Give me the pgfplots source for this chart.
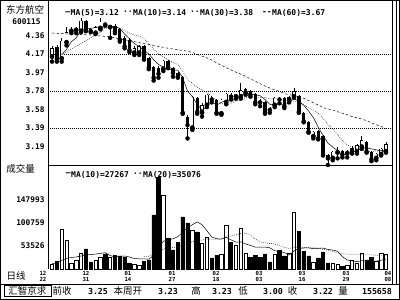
\documentclass[border=0pt]{standalone}
\usepackage{fontspec}
\setmainfont{DejaVu Sans}
\newfontfamily\mono{DejaVu Sans Mono}
\newfontfamily\cjk{Noto Sans CJK SC}
\usepackage{pgfplots}
\usepackage{pgfplotstable}
\pgfplotsset{compat=1.18}

\pgfplotstableread{
i O H L C V
0 4.14 4.25 4.09 4.23 16500
2 4.12 4.34 4.09 4.31 88400
3 4.29 4.45 4.26 4.40 65800
4 4.41 4.45 4.39 4.43 18600
5 4.42 4.45 4.39 4.44 24800
6 4.41 4.55 4.40 4.52 39100
9 4.39 4.47 4.38 4.45 24800
10 4.44 4.55 4.43 4.51 30900
12 4.45 4.48 4.34 4.46 30900
17 4.18 4.25 4.16 4.23 16500
18 4.18 4.26 4.16 4.25 14500
23 4.01 4.11 3.99 4.10 158300
29 3.39 3.73 3.37 3.72 86400
31 3.55 3.65 3.51 3.63 59700
32 3.63 3.75 3.61 3.74 72000
35 3.54 3.70 3.53 3.69 37100
36 3.66 3.76 3.64 3.75 96700
38 3.72 3.74 3.70 3.73 55600
39 3.72 3.86 3.70 3.79 90500
40 3.76 3.81 3.74 3.80 39100
46 3.63 3.72 3.61 3.71 37100
49 3.69 3.73 3.66 3.72 39100
50 3.72 3.81 3.71 3.78 123300
54 3.30 3.36 3.28 3.35 20700
58 3.07 3.15 3.05 3.14 18600
59 3.13 3.19 3.07 3.14 16500
61 3.12 3.16 3.08 3.13 14500
62 3.14 3.20 3.12 3.18 24800
63 3.14 3.22 3.12 3.21 18600
64 3.19 3.31 3.17 3.26 39100
67 3.07 3.13 3.05 3.12 22700
68 3.11 3.18 3.10 3.17 39100
69 3.14 3.24 3.13 3.22 37100
}\up

\pgfplotstableread{
i O H L C V
1 4.24 4.26 4.09 4.12 22700
7 4.52 4.53 4.41 4.42 47400
8 4.43 4.44 4.40 4.41 20700
11 4.50 4.51 4.47 4.48 37100
13 4.47 4.49 4.39 4.41 35000
14 4.43 4.44 4.30 4.32 33000
15 4.34 4.36 4.23 4.25 30900
16 4.32 4.34 4.19 4.21 18600
19 4.25 4.26 4.11 4.13 22700
20 4.13 4.14 4.01 4.03 24800
21 4.03 4.04 3.89 3.92 117200
22 4.02 4.04 3.92 3.96 195200
24 4.10 4.11 4.02 4.03 69900
25 4.02 4.03 3.93 3.97 45300
26 3.97 3.98 3.92 3.93 61700
27 3.93 3.94 3.54 3.55 113100
28 3.51 3.53 3.28 3.42 100800
30 3.71 3.72 3.54 3.56 82300
33 3.71 3.73 3.66 3.69 28900
34 3.69 3.70 3.54 3.55 35000
37 3.74 3.76 3.69 3.72 61700
41 3.78 3.79 3.72 3.74 30900
42 3.75 3.76 3.64 3.66 35000
43 3.67 3.70 3.62 3.66 30900
44 3.66 3.67 3.54 3.56 37100
45 3.59 3.61 3.55 3.58 20700
47 3.71 3.72 3.65 3.69 45300
48 3.71 3.72 3.60 3.62 33000
51 3.73 3.74 3.55 3.56 84300
52 3.55 3.56 3.45 3.46 43200
53 3.45 3.46 3.34 3.35 33000
55 3.36 3.37 3.27 3.28 28900
56 3.31 3.32 3.10 3.11 41200
57 3.11 3.12 3.00 3.07 18600
60 3.15 3.16 3.08 3.11 12400
65 3.24 3.25 3.13 3.14 24800
66 3.14 3.15 3.04 3.06 30900
}\down

\pgfplotstableread{
i m
2 4.16
3 4.22
4 4.30
5 4.34
6 4.42
7 4.44
8 4.44
9 4.45
10 4.46
11 4.45
12 4.46
13 4.46
14 4.44
15 4.38
16 4.33
17 4.28
18 4.25
19 4.21
20 4.17
21 4.11
22 4.06
23 4.03
24 4.01
25 4.00
26 4.00
27 3.92
28 3.78
29 3.72
30 3.64
31 3.58
32 3.61
33 3.67
34 3.63
35 3.66
36 3.68
37 3.68
38 3.69
39 3.73
40 3.76
41 3.75
42 3.74
43 3.73
44 3.69
45 3.64
46 3.64
47 3.64
48 3.63
49 3.66
50 3.70
51 3.67
52 3.63
53 3.57
54 3.50
55 3.40
56 3.31
57 3.23
58 3.19
59 3.15
60 3.11
61 3.12
62 3.14
63 3.15
64 3.18
65 3.18
66 3.17
67 3.16
68 3.15
69 3.14
}\maFive

\pgfplotstableread{
i m
2 4.16
3 4.19
4 4.22
5 4.25
6 4.28
7 4.31
8 4.34
9 4.37
10 4.40
11 4.44
12 4.45
13 4.45
14 4.44
15 4.42
16 4.39
17 4.37
18 4.36
19 4.33
20 4.28
21 4.22
22 4.17
23 4.14
24 4.11
25 4.08
26 4.06
27 3.99
28 3.90
29 3.86
30 3.82
31 3.79
32 3.77
33 3.72
34 3.68
35 3.65
36 3.63
37 3.65
38 3.68
39 3.68
40 3.71
41 3.72
42 3.71
43 3.71
44 3.71
45 3.70
46 3.70
47 3.69
48 3.68
49 3.68
50 3.67
51 3.66
52 3.64
53 3.60
54 3.58
55 3.55
56 3.49
57 3.43
58 3.38
59 3.32
60 3.26
61 3.21
62 3.19
63 3.17
64 3.16
65 3.15
66 3.14
67 3.15
68 3.15
69 3.16
}\maTen

\pgfplotstableread{
i m
0 4.39
4 4.38
8 4.37
12 4.35
16 4.31
20 4.27
24 4.23
28 4.20
29 4.187
30 4.165
31 4.148
32 4.129
33 4.106
34 4.076
35 4.051
36 4.026
37 4.002
38 3.979
39 3.957
40 3.934
41 3.909
42 3.882
43 3.858
44 3.832
45 3.810
46 3.793
47 3.775
48 3.754
49 3.741
50 3.732
51 3.720
52 3.704
53 3.679
54 3.656
55 3.633
56 3.606
57 3.590
58 3.580
59 3.561
60 3.546
61 3.529
62 3.511
63 3.495
64 3.485
65 3.467
66 3.444
67 3.424
68 3.405
69 3.386
}\maThirty

\pgfplotstableread{
i m
0 17000
1 19000
2 24000
3 28000
4 30000
5 31000
6 33000
7 35000
8 36000
9 36880
10 38320
11 39760
12 34010
13 30930
14 32370
15 32980
16 30930
17 27840
18 27220
19 27010
20 26400
21 34410
22 50840
23 63170
24 66860
25 68300
26 72610
27 82270
28 90900
29 97270
30 103020
31 97270
32 84950
33 72010
34 68520
35 67700
36 71200
37 66060
38 61540
39 61950
40 57630
41 54750
42 51050
43 51250
44 51460
45 49820
46 43860
47 42220
48 39960
49 34820
50 43240
51 48580
52 49400
53 49610
54 47970
55 48790
56 49200
57 46530
58 45090
59 42830
60 31740
61 24760
62 22920
63 21480
64 23320
65 22910
66 21880
67 22290
68 24340
69 26400
}\vmTen

\pgfplotstableread{
i m
19 31950
20 32360
21 37090
22 42430
23 47050
24 49620
25 50640
26 51770
27 55060
28 59060
29 62140
30 64710
31 65840
32 67900
33 67590
34 67690
35 68000
36 71910
37 74170
38 76220
39 79610
40 80330
41 76010
42 68000
43 61630
44 59990
45 58760
46 57530
47 54140
48 50750
49 48390
50 50440
51 51670
52 50230
53 50430
54 49720
55 49310
56 46530
57 44380
58 42530
59 38830
60 37490
61 36670
62 36160
63 35550
64 35650
65 35850
66 35540
67 34410
68 34720
69 34620
}\vmTwenty

\newcommand\lblfont{\mono\bfseries\fontsize{7.8}{8}\selectfont}
\newcommand\numfont{\mono\bfseries\fontsize{8.3}{8.5}\selectfont}
\newcommand\hdrfont{\mono\bfseries\fontsize{8}{8}\selectfont}
\newcommand\datefont{\mono\bfseries\fontsize{5.6}{5.8}\selectfont}
\newcommand\cjkfont{\cjk\fontsize{9.5}{10}\selectfont}

\pgfplotsset{
  panel/.style={
    scale only axis,
    xmin=-0.83, xmax=70.04,
    axis line style={draw=none},
    xtick=\empty,
    major tick length=0pt,
    yticklabel style={font=\lblfont, anchor=east},
    scaled y ticks=false,
    clip=true,
  },
  errline/.style={only marks, mark=none, forget plot},
}

\begin{document}
\begin{tikzpicture}
% frame (defines the picture size)
\draw[line width=1pt] (0.5pt,-0.5pt) rectangle (399.5pt,-299.5pt);

% ---------- price panel ----------
\begin{axis}[panel,
  at={(48pt,-165pt)}, anchor=south west, width=343pt, height=163pt,
  ymin=3.00, ymax=4.718,
  ytick={3.19,3.58,3.97,4.36}, yticklabels={3.19,3.58,3.97,4.36},
  extra y ticks={3.39,3.78,4.17}, extra y tick labels={3.39,3.78,4.17},
  extra y tick style={grid=major},
  major grid style={black, line width=0.5pt, dash pattern=on 0.6pt off 1.4pt},
]
% wicks
\addplot[errline, error bars/.cd, y dir=plus, y explicit, error mark=none,
  error bar style={black, line width=0.6pt}]
  table[x=i, y=L, y error plus expr=\thisrow{H}-\thisrow{L}] {\up};
\addplot[errline, error bars/.cd, y dir=plus, y explicit, error mark=none,
  error bar style={black, line width=0.6pt}]
  table[x=i, y=L, y error plus expr=\thisrow{H}-\thisrow{L}] {\down};
% falling bodies
\addplot[errline, error bars/.cd, y dir=plus, y explicit, error mark=none,
  error bar style={black, line width=3.4pt}]
  table[x=i, y=C, y error plus expr=\thisrow{O}-\thisrow{C}] {\down};
% rising bodies (hollow)
\addplot[errline, error bars/.cd, y dir=plus, y explicit, error mark=none,
  error bar style={black, line width=3.4pt}]
  table[x=i, y=O, y error plus expr=\thisrow{C}-\thisrow{O}] {\up};
\addplot[errline, error bars/.cd, y dir=plus, y explicit, error mark=none,
  error bar style={white, line width=2.2pt}]
  table[x=i, y expr=\thisrow{O}+0.0063, y error plus expr={max(\thisrow{C}-\thisrow{O}-0.0126,0)}] {\up};
% moving averages
\addplot[black, line width=0.5pt, mark=none] table[x=i, y=m] {\maFive};
\addplot[black, line width=0.5pt, mark=none, dash pattern=on 0.7pt off 1.3pt] table[x=i, y=m] {\maTen};
\addplot[black, line width=0.5pt, mark=none, dash pattern=on 2.4pt off 2.2pt] table[x=i, y=m] {\maThirty};
\end{axis}

% ---------- volume panel ----------
\begin{axis}[panel,
  at={(48pt,-269pt)}, anchor=south west, width=343pt, height=104pt,
  ymin=6270, ymax=219890,
  ytick={53526,100759,147993}, yticklabels={53526,100759,147993},
]
\addplot[ybar, bar width=3.4pt, bar shift=0pt, fill=white, draw=black, line width=0.6pt] table[x=i, y=V] {\up};
\addplot[ybar, bar width=3.4pt, bar shift=0pt, fill=black, draw=black, line width=0.6pt] table[x=i, y=V] {\down};
\addplot[black, line width=0.5pt, mark=none] table[x=i, y=m] {\vmTen};
\addplot[black, line width=0.5pt, mark=none, dash pattern=on 0.7pt off 1.3pt] table[x=i, y=m] {\vmTwenty};
\end{axis}

% ---------- frame lines ----------
\draw[line width=0.8pt] (48pt,-0.5pt) -- (48pt,-269pt);
\draw[line width=0.8pt] (48pt,-165pt) -- (392pt,-165pt);
\draw[line width=0.8pt] (392.5pt,-0.5pt) -- (392.5pt,-284pt);
\draw[line width=0.8pt] (396.5pt,-0.5pt) -- (396.5pt,-284pt);
\draw[line width=0.8pt] (0.5pt,-284pt) -- (399.5pt,-284pt);

% ---------- texts ----------
\node[font=\cjkfont, inner sep=0] at (25pt,-10pt) {东方航空};
\node[font=\lblfont, inner sep=0] at (26.5pt,-21.5pt) {600115};
\node[font=\cjkfont, inner sep=0] at (20.5pt,-169pt) {成交量};
\node[font=\cjkfont, inner sep=0] at (16pt,-276pt) {日线};

% price legend
\node[font=\hdrfont, inner sep=0, anchor=east] at (70.5pt,-13pt) {—};
\node[font=\hdrfont, inner sep=0, anchor=west] at (70.5pt,-13pt) {MA(5)=3.12};
\node[font=\hdrfont, inner sep=0, anchor=east] at (133pt,-13pt) {··};
\node[font=\hdrfont, inner sep=0, anchor=west] at (133pt,-13pt) {MA(10)=3.14};
\node[font=\hdrfont, inner sep=0, anchor=east] at (200pt,-13pt) {··};
\node[font=\hdrfont, inner sep=0, anchor=west] at (200pt,-13pt) {MA(30)=3.38};
\node[font=\hdrfont, inner sep=0, anchor=east] at (272pt,-13pt) {-{}-};
\node[font=\hdrfont, inner sep=0, anchor=west] at (272pt,-13pt) {MA(60)=3.67};

% volume legend
\node[font=\hdrfont, inner sep=0, anchor=east] at (71pt,-174.5pt) {—};
\node[font=\hdrfont, inner sep=0, anchor=west] at (71pt,-174.5pt) {MA(10)=27267};
\node[font=\hdrfont, inner sep=0, anchor=east] at (143pt,-174.5pt) {··};
\node[font=\hdrfont, inner sep=0, anchor=west] at (143pt,-174.5pt) {MA(20)=35076};

\foreach \x/\m/\d in {43/12/22, 86/12/31, 128/01/14, 172/01/27, 216/02/18, 259/03/03, 302/03/16, 346/03/29, 388/04/08}
  \node[font=\datefont, inner sep=0, align=center] at (\x pt,-276.5pt) {\m\\\d};

% status bar
\draw[line width=0.8pt] (4pt,-285.5pt) rectangle (51pt,-296.5pt);
\node[font=\cjkfont, inner sep=0] at (27.5pt,-291pt) {汇智京求};
\node[font=\cjkfont, inner sep=0] at (62pt,-291pt) {前收};
\node[font=\numfont, inner sep=0] at (98pt,-291pt) {3.25};
\node[font=\cjkfont, inner sep=0] at (128pt,-291pt) {本周开};
\node[font=\numfont, inner sep=0] at (168pt,-291pt) {3.23};
\node[font=\cjkfont, inner sep=0] at (196pt,-291pt) {高};
\node[font=\numfont, inner sep=0] at (222pt,-291pt) {3.23};
\node[font=\cjkfont, inner sep=0] at (243pt,-291pt) {低};
\node[font=\numfont, inner sep=0] at (273pt,-291pt) {3.00};
\node[font=\cjkfont, inner sep=0] at (292.5pt,-291pt) {收};
\node[font=\numfont, inner sep=0] at (323pt,-291pt) {3.22};
\node[font=\cjkfont, inner sep=0] at (343pt,-291pt) {量};
\node[font=\numfont, inner sep=0] at (377pt,-291pt) {155658};
\end{tikzpicture}
\end{document}
